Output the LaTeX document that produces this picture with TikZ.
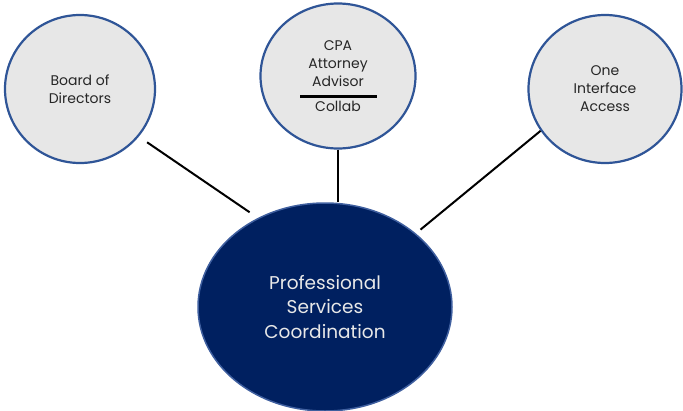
\documentclass[tikz,border=0pt]{standalone}
\usepackage{fontspec}
\setmainfont{Poppins}
\usetikzlibrary{shapes.geometric}
\definecolor{circfill}{HTML}{E7E7E7}
\definecolor{circline}{HTML}{2F5597}
\definecolor{navy}{HTML}{002060}
\definecolor{navyline}{HTML}{3F5F9F}
\definecolor{txtgray}{HTML}{262626}
\definecolor{lighttxt}{HTML}{E8E8E8}
\begin{document}
\begin{tikzpicture}[x=1pt,y=-1pt,
  smallcirc/.style={ellipse, draw=circline, line width=2.2pt, fill=circfill, inner sep=0pt, text=txtgray, align=center, font=\fontsize{14}{18}\selectfont},
  bigcirc/.style={ellipse, draw=navyline, line width=1.5pt, fill=navy, inner sep=0pt, text=lighttxt, align=center, font=\fontsize{18.5}{24.5}\selectfont},
  link/.style={line width=2pt, draw=black}]
\useasboundingbox (0,0) rectangle (683,410);
\node[smallcirc, minimum width=150pt, minimum height=148pt] (board) at (80,89) {Board of\\Directors};
\node[smallcirc, minimum width=155pt, minimum height=145pt] (cpa) at (338,76) {CPA\\Attorney\\Advisor\\[7pt]Collab};
\node[smallcirc, minimum width=153pt, minimum height=148pt] (iface) at (605,89) {One\\Interface\\Access};
\node[bigcirc, minimum width=254pt, minimum height=208pt] (center) at (325,307) {Professional\\Services\\Coordination};
\draw[line width=3pt] (300,96) -- (377,96);
\draw[link, shorten <=10pt, shorten >=10pt] (board.-39) -- (center.127);
\draw[link] (cpa.south) -- (cpa.south |- center.north);
\draw[link, shorten >=6pt] (iface.213) -- (center.39);
\end{tikzpicture}
\end{document}
